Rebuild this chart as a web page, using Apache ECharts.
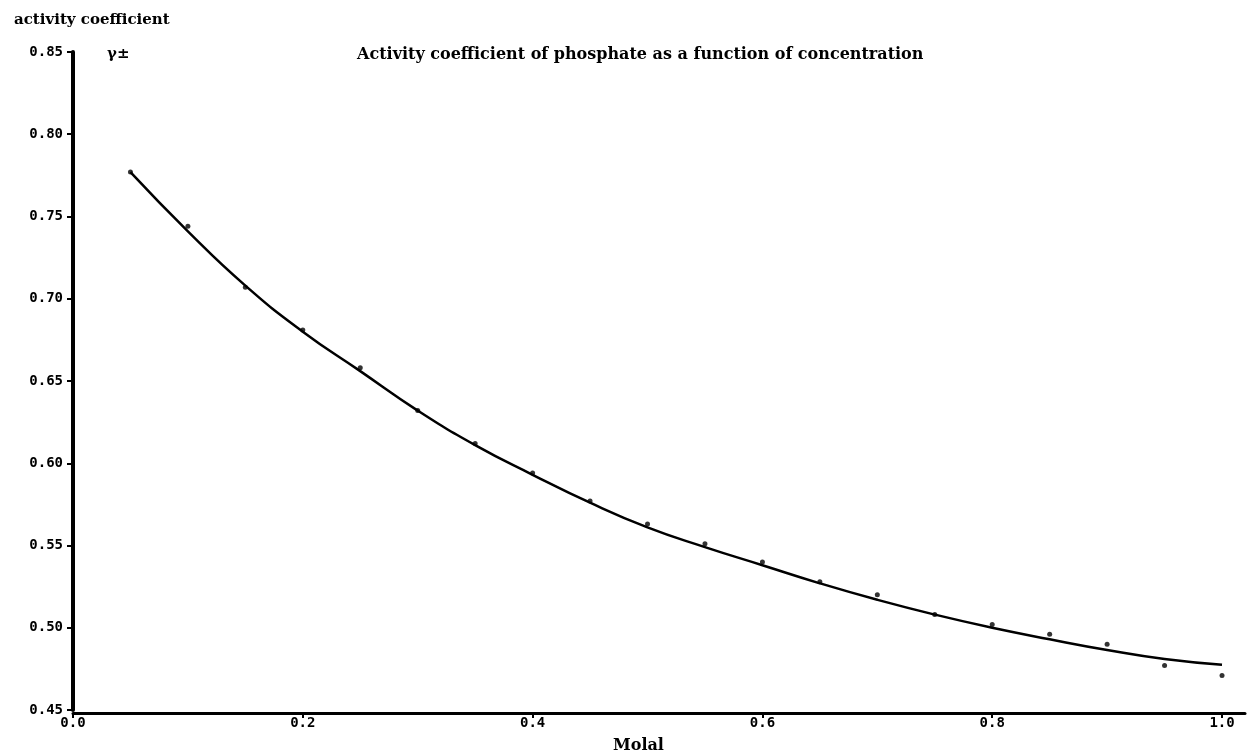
<!DOCTYPE html>
<html>
<head>
<meta charset="utf-8">
<script src="https://cdn.jsdelivr.net/npm/echarts@6/dist/echarts.min.js"></script>
<style>
  html, body { margin: 0; padding: 0; background: #fff; }
  #chart { width: 1247px; height: 755px; }
</style>
</head>
<body>
<div id="chart"></div>
<script>
// molal concentration of each measured point
const molal = [0.05, 0.10, 0.15, 0.20, 0.25, 0.30, 0.35, 0.40, 0.45, 0.50,
               0.55, 0.60, 0.65, 0.70, 0.75, 0.80, 0.85, 0.90, 0.95, 1.00]
// measured activity coefficient (dots)
const measured = [0.777, 0.744, 0.707, 0.681, 0.658, 0.632, 0.612, 0.594, 0.577, 0.563,
                  0.551, 0.540, 0.528, 0.520, 0.508, 0.502, 0.496, 0.490, 0.477, 0.471]
// fitted curve
const fitted = [0.777, 0.741, 0.708, 0.680, 0.656, 0.632, 0.611, 0.593, 0.576, 0.561,
                0.549, 0.538, 0.527, 0.517, 0.508, 0.500, 0.493, 0.4865, 0.481, 0.4775]
const xTicks = [0, 0.2, 0.4, 0.6, 0.8, 1.0]
const yTicks = [0.45, 0.50, 0.55, 0.60, 0.65, 0.70, 0.75, 0.80, 0.85]

const chart = echarts.init(document.getElementById('chart'))

const labelFont = {
  color: '#000',
  fontFamily: 'DejaVu Sans Mono',
  fontWeight: 'bold',
  fontSize: 14
}
const serif = size => ({fontFamily: 'DejaVu Serif', fontWeight: 'bold', fontSize: size, color: '#000'})

chart.setOption({
  animation: false,
  backgroundColor: '#fff',
  title: [
    {text: 'activity coefficient', left: 9, top: 8, textStyle: serif(15)},
    {text: 'γ±', left: 102, top: 42, textStyle: serif(15)},
    {text: 'Activity coefficient of phosphate as a function of concentration', left: 352, top: 42, textStyle: serif(16)},
    {text: 'Molal', left: 608, top: 733, textStyle: serif(16)}
  ],
  grid: {left: 73, right: 2, top: 52, bottom: 45},
  xAxis: {
    type: 'value',
    min: 0,
    max: 1.02,
    offset: 3,
    splitLine: {show: false},
    axisLine: {lineStyle: {color: '#000', width: 3}},
    axisTick: {customValues: xTicks, length: 5, lineStyle: {color: '#000', width: 2}},
    axisLabel: Object.assign({
      customValues: xTicks,
      margin: 3,
      formatter: v => v.toFixed(1)
    }, labelFont)
  },
  yAxis: {
    type: 'value',
    min: 0.45,
    max: 0.85,
    interval: 0.05,
    offset: 4,
    splitLine: {show: false},
    axisLine: {lineStyle: {color: '#000', width: 4}},
    axisTick: {customValues: yTicks, length: 6, lineStyle: {color: '#000', width: 2}},
    axisLabel: Object.assign({
      customValues: yTicks,
      margin: 6,
      formatter: v => v.toFixed(2)
    }, labelFont)
  },
  series: [
    {
      name: 'fitted',
      type: 'line',
      smooth: 0.5,
      showSymbol: false,
      data: molal.map((m, i) => [m, fitted[i]]),
      lineStyle: {color: '#000', width: 2.5},
      z: 2
    },
    {
      name: 'measured',
      type: 'scatter',
      symbol: 'circle',
      symbolSize: 5,
      data: molal.map((m, i) => [m, measured[i]]),
      itemStyle: {color: '#000'},
      z: 3
    }
  ]
})
</script>
</body>
</html>
